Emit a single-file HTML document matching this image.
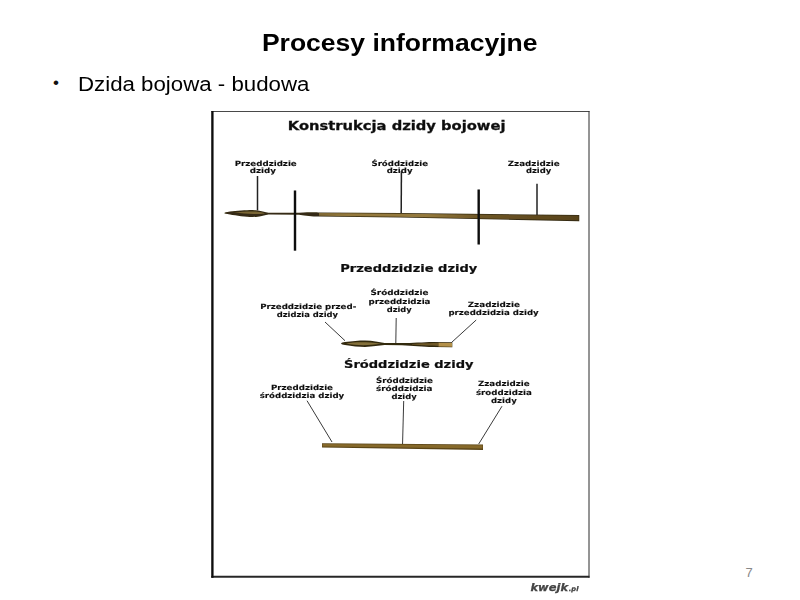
<!DOCTYPE html>
<html lang="pl">
<head>
<meta charset="utf-8">
<title>Procesy informacyjne</title>
<style>
html,body{margin:0;padding:0;background:#fff;}
body{width:800px;height:600px;position:relative;overflow:hidden;font-family:"Liberation Sans",Arial,sans-serif;color:#000;}
#title{position:absolute;left:0;top:26.5px;width:800px;text-align:center;font-weight:bold;font-size:24.2px;line-height:32px;white-space:nowrap;}
#title span{display:inline-block;transform:scaleX(1.096);transform-origin:50% 50%;}
#bullet{position:absolute;left:52.9px;top:72.6px;font-size:17px;line-height:20px;color:#111;}
#btext{position:absolute;left:78.3px;top:72px;font-size:20px;line-height:24px;white-space:nowrap;}
#btext span{display:inline-block;transform:scaleX(1.113);transform-origin:0 50%;}
#pic{position:absolute;left:0;top:0;width:800px;height:600px;}
#pic text{font-family:"DejaVu Sans",Verdana,sans-serif;font-weight:bold;fill:#111;stroke:#111;stroke-width:0.25px;}
.h1{font-size:12px;stroke-width:0.3px !important;}
.h2{font-size:10.4px;stroke-width:0.22px !important;}
.lb{font-size:7.3px;stroke-width:0.12px !important;}
#pic .kw{font-size:11px;font-style:italic;fill:#444;stroke:#444;}
#pic .kw2{font-size:6.5px;font-style:italic;fill:#444;stroke:#444;}
#pn{position:absolute;left:743px;top:565.4px;width:12px;text-align:center;font-size:13px;line-height:16px;color:#888;}
</style>
</head>
<body>
<div id="title"><span>Procesy informacyjne</span></div>
<div id="bullet">•</div>
<div id="btext"><span>Dzida bojowa - budowa</span></div>
<svg id="pic" viewBox="0 0 800 600">
<defs>
<filter id="bl" x="-5%" y="-5%" width="110%" height="110%"><feGaussianBlur stdDeviation="0.5"/></filter>
<linearGradient id="sh1" x1="317" y1="0" x2="579" y2="0" gradientUnits="userSpaceOnUse">
<stop offset="0" stop-color="#7d6633"/><stop offset="0.12" stop-color="#94793c"/><stop offset="0.42" stop-color="#94793c"/><stop offset="0.62" stop-color="#6e5626"/><stop offset="1" stop-color="#574219"/>
</linearGradient>
</defs>
<g filter="url(#bl)">
<g fill="none">
<line x1="211.300" y1="111.500" x2="589.500" y2="111.500" stroke="#4a4a4a" stroke-width="1.100"/>
<line x1="589" y1="111" x2="589" y2="577.800" stroke="#2a2a2a" stroke-width="1"/>
<line x1="211.300" y1="576.800" x2="589.500" y2="576.800" stroke="#262626" stroke-width="2.100"/>
<line x1="212.400" y1="111" x2="212.400" y2="577.800" stroke="#080808" stroke-width="2.300"/>
</g>
<text class="h1" x="287.75" y="130" textLength="217.75" lengthAdjust="spacingAndGlyphs">Konstrukcja dzidy bojowej</text>
<text class="lb" x="234.7" y="165.6" textLength="62.05" lengthAdjust="spacingAndGlyphs">Przeddzidzie</text>
<text class="lb" x="249.7" y="173.4" textLength="26.3" lengthAdjust="spacingAndGlyphs">dzidy</text>
<text class="lb" x="371.45" y="165.6" textLength="56.55" lengthAdjust="spacingAndGlyphs">Śróddzidzie</text>
<text class="lb" x="386.7" y="173.4" textLength="25.8" lengthAdjust="spacingAndGlyphs">dzidy</text>
<text class="lb" x="507.7" y="165.6" textLength="52.05" lengthAdjust="spacingAndGlyphs">Zzadzidzie</text>
<text class="lb" x="525.95" y="173.4" textLength="25.3" lengthAdjust="spacingAndGlyphs">dzidy</text>
<text class="h2" x="340.25" y="272" textLength="137" lengthAdjust="spacingAndGlyphs">Przeddzidzie dzidy</text>
<text class="lb" x="260.2" y="308.8" textLength="96.05" lengthAdjust="spacingAndGlyphs">Przeddzidzie przed-</text>
<text class="lb" x="276.7" y="317" textLength="61.3" lengthAdjust="spacingAndGlyphs">dzidzia dzidy</text>
<text class="lb" x="370.45" y="295" textLength="58.05" lengthAdjust="spacingAndGlyphs">Śróddzidzie</text>
<text class="lb" x="368.45" y="303.6" textLength="62.05" lengthAdjust="spacingAndGlyphs">przeddzidzia</text>
<text class="lb" x="386.7" y="312.4" textLength="25.05" lengthAdjust="spacingAndGlyphs">dzidy</text>
<text class="lb" x="467.7" y="307" textLength="52.3" lengthAdjust="spacingAndGlyphs">Zzadzidzie</text>
<text class="lb" x="448.45" y="315.2" textLength="90.3" lengthAdjust="spacingAndGlyphs">przeddzidzia dzidy</text>
<text class="h2" x="344" y="368" textLength="129.5" lengthAdjust="spacingAndGlyphs">Śróddzidzie dzidy</text>
<text class="lb" x="270.95" y="389.5" textLength="62.05" lengthAdjust="spacingAndGlyphs">Przeddzidzie</text>
<text class="lb" x="259.7" y="397.6" textLength="84.55" lengthAdjust="spacingAndGlyphs">śróddzidzia dzidy</text>
<text class="lb" x="375.95" y="382.5" textLength="57.05" lengthAdjust="spacingAndGlyphs">Śróddzidzie</text>
<text class="lb" x="375.95" y="391.2" textLength="56.55" lengthAdjust="spacingAndGlyphs">śróddzidzia</text>
<text class="lb" x="391.45" y="399.4" textLength="25.3" lengthAdjust="spacingAndGlyphs">dzidy</text>
<text class="lb" x="477.95" y="385.8" textLength="51.8" lengthAdjust="spacingAndGlyphs">Zzadzidzie</text>
<text class="lb" x="475.95" y="394.5" textLength="55.8" lengthAdjust="spacingAndGlyphs">środdzidzia</text>
<text class="lb" x="490.95" y="403" textLength="25.8" lengthAdjust="spacingAndGlyphs">dzidy</text>
<g stroke="#222" stroke-width="1.5" fill="none">
<line x1="257.5" y1="176" x2="257.5" y2="210.5"/>
<line x1="401.4" y1="171" x2="401.2" y2="213"/>
<line x1="537" y1="183.700" x2="537" y2="215"/>
</g>
<!-- spear 1 -->
<path d="M224.300 213.100 C224.500 212.500 226 212.200 230 211.500 C236 210.900 246 210.100 252.500 210 C257 210.100 262 211.200 266 212.200 C268 212.600 269 212.700 270.500 212.800 L299 212.700 C306 212.500 312 212.300 318.500 212.400 L400 213.100 L579.250 215.100 L579.250 221.300 L400 217.500 L318.500 216.500 C312 216.400 306 215.800 299 214.700 L270.500 214.500 C269 214.500 268 214.600 266 214.900 C262 215.900 257 217 252.500 217.100 C246 217 236 215.500 230 214.500 C226 214 224.500 213.700 224.300 213.100Z" fill="#352b12"/>
<path d="M234 212.600 C242 211.600 250 211.200 256 211.600 C260 212 263 212.900 265 213.400 C258 214.200 246 214.300 234 212.600Z" fill="#7a6636"/>
<path d="M319 213.100 L400 213.700 L578.600 215.700 L578.600 220.200 L400 216.700 L319 215.700Z" fill="url(#sh1)"/>
<g stroke="#0c0c0c" stroke-width="2.400">
<line x1="295" y1="190.500" x2="295" y2="250.700"/>
<line x1="478.700" y1="189.500" x2="478.700" y2="244.500"/>
</g>
<g stroke="#3a3a3a" stroke-width="1" fill="none">
<line x1="325" y1="322" x2="345" y2="340.700"/>
<line x1="396.200" y1="318" x2="395.800" y2="343"/>
<line x1="476.200" y1="320" x2="451.500" y2="342.500"/>
</g>
<!-- spear head 2 -->
<path d="M341 343.400 C341.300 342.600 343 342.300 345 342 C352 341.100 359 340.500 365 340.500 C373 340.700 379 342.300 384.500 342.900 L402 343.100 C412 342.900 424 342.100 432.500 341.900 L452.300 342.200 L452.300 347.300 L432.500 347.100 C424 346.900 412 345.700 402 345.300 L384.500 345.100 C379 345.600 373 346.800 365 346.900 C359 346.800 352 346 345 344.900 C343 344.500 341.300 344.200 341 343.400Z" fill="#332910"/>
<path d="M346 343.500 C354 342 367 341.600 381 343.800 C368 345.800 355 345.500 346 343.500Z" fill="#84703a"/>
<path d="M412 344 C422 343.300 432 343 438.500 343 L438.500 346 C432 346 422 345.300 412 344.600Z" fill="#6e5828"/>
<path d="M438.500 342.700 L452 342.900 L452 346.700 L438.500 346.500Z" fill="#b39048"/>
<g stroke="#3a3a3a" stroke-width="1" fill="none">
<line x1="307" y1="400.700" x2="332" y2="442"/>
<line x1="403.700" y1="401" x2="402.500" y2="446"/>
<line x1="502" y1="406.200" x2="478.700" y2="444"/>
</g>
<!-- shaft 3 -->
<path d="M322 443.200 L483 444.500 L483 450 L322 447.600Z" fill="#5a4518"/>
<path d="M322.500 443.900 L482.500 445.300 L482.500 448.500 L322.500 446.500Z" fill="#86692c"/>
<text class="kw" x="530.500" y="591.300" textLength="37.500" lengthAdjust="spacingAndGlyphs">kwejk</text>
<text class="kw2" x="568.800" y="591.300" textLength="9.700" lengthAdjust="spacingAndGlyphs">.pl</text>
</g>
</svg>
<div id="pn">7</div>
</body>
</html>
